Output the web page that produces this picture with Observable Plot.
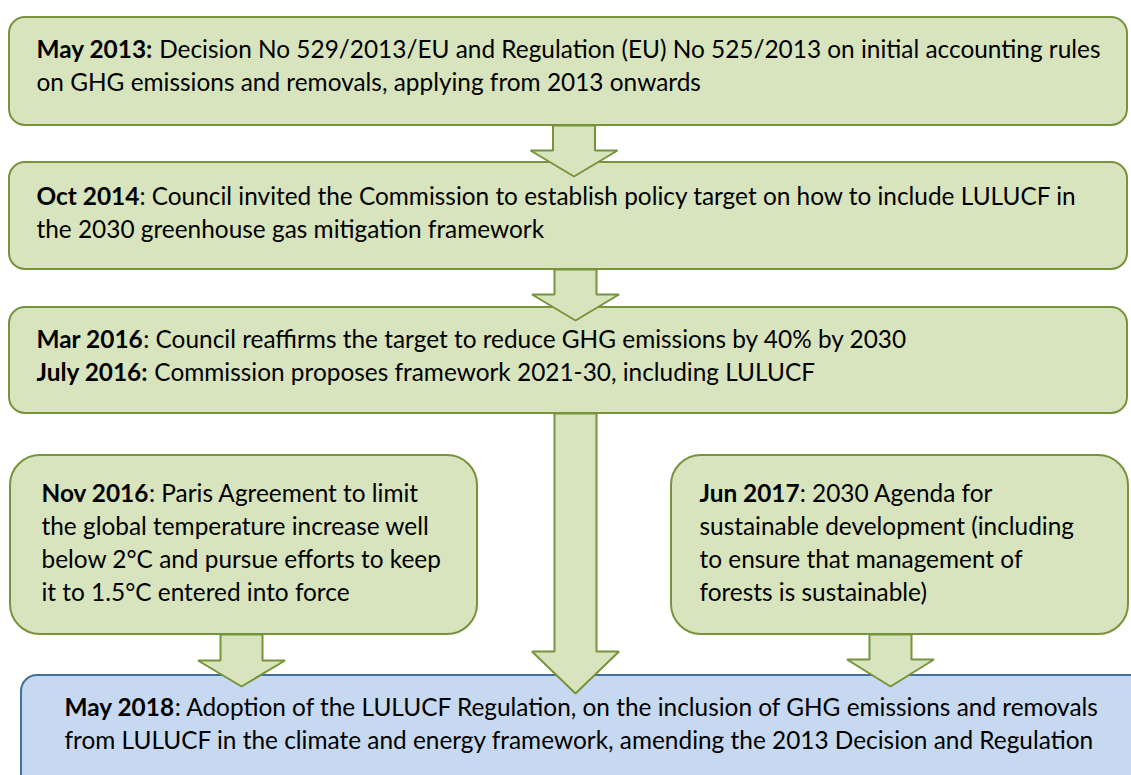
<!DOCTYPE html>
<html>
<head>
<meta charset="utf-8">
<script src="https://cdn.jsdelivr.net/npm/d3@7"></script>
<script src="https://cdn.jsdelivr.net/npm/@observablehq/plot@0.6"></script>
<style>
  html, body { margin: 0; padding: 0; background: #ffffff; }
  #chart svg { display: block; }
</style>
</head>
<body>
<div id="chart"></div>
<script>
// ---- Data: the timeline boxes (diagram units = page pixels) ----
const boxIds   = ["may2013", "oct2014", "mar2016", "nov2016", "jun2017", "may2018"];
const boxLeft  = [9, 9, 9, 10, 671, 21];
const boxRight = [1127, 1127, 1127, 477, 1128, 1145];
const boxTop   = [17, 162, 307, 455, 455, 675];
const boxBottom= [125, 269, 413, 634, 634, 795];
const boxKind  = ["step", "step", "step", "side", "side", "result"];
const textLeft = [36, 36, 36, 41, 699, 64];
const textTop  = [50, 197, 340, 494, 494, 708];

// each line: [box index, bold lead, regular remainder]
const textLines = [
  [0, "May 2013:", " Decision No 529/2013/EU and Regulation (EU) No 525/2013 on initial accounting rules"],
  [0, "", "on GHG emissions and removals, applying from 2013 onwards"],
  [1, "Oct 2014", ": Council invited the Commission to establish policy target on how to include LULUCF in"],
  [1, "", "the 2030 greenhouse gas mitigation framework"],
  [2, "Mar 2016", ": Council reaffirms the target to reduce GHG emissions by 40% by 2030"],
  [2, "July 2016:", " Commission proposes framework 2021-30, including LULUCF"],
  [3, "Nov 2016", ": Paris Agreement to limit"],
  [3, "", "the global temperature increase well"],
  [3, "", "below 2°C and pursue efforts to keep"],
  [3, "", "it to 1.5°C entered into force"],
  [4, "Jun 2017", ": 2030 Agenda for"],
  [4, "", "sustainable development (including"],
  [4, "", "to ensure that management of"],
  [4, "", "forests is sustainable)"],
  [5, "May 2018", ": Adoption of the LULUCF Regulation, on the inclusion of GHG emissions and removals"],
  [5, "", "from LULUCF in the climate and energy framework, amending the 2013 Decision and Regulation"]
];

// ---- Data: block arrows ----
const arrowCenter = [573.5, 575, 575, 241, 890];
const arrowFrom   = [125, 269, 413, 634, 634];
const arrowHead   = [150, 294, 651, 660, 659];
const arrowTip    = [176, 320, 693, 686, 686];

// ---- Styles ----
const W = 1131, H = 775;
const FONT = "Lato, 'Open Sans', sans-serif";
const LINE = 33;
const green = "#d7e4bd", greenStroke = "#77933c";
const blue = "#c6d9f0", blueStroke = "#41719c";
const shaftW = 42, headW = 87;

// build tables
const boxes = boxIds.map((id, i) => ({
  id, x1: boxLeft[i], x2: boxRight[i], y1: boxTop[i], y2: boxBottom[i], kind: boxKind[i]
}));

const ctx = document.createElement("canvas").getContext("2d");
function measure(str, bold, size) {
  ctx.font = `${bold ? "bold " : ""}${size}px ${FONT}`;
  return ctx.measureText(str).width;
}
// calibrate font size so that the first line spans the same width as in the reference
const refWidth = 1102 - 36;
const w20 = measure(textLines[0][1], true, 20) + measure(textLines[0][2], false, 20);
const FS = Math.round(20 * refWidth / w20 * 10) / 10;

const lineCount = {};
const boldSegs = [], regSegs = [];
for (const [b, lead, rest] of textLines) {
  const k = lineCount[b] = (lineCount[b] ?? -1) + 1;
  const y = textTop[b] + k * LINE;
  const x = textLeft[b];
  if (lead) boldSegs.push({x, y, text: lead});
  regSegs.push({x: x + (lead ? measure(lead, true, FS) : 0), y, text: rest});
}

const arrowPts = [];
arrowCenter.forEach((cx, i) => {
  const s = shaftW / 2, h = headW / 2;
  const pts = [
    [cx - s, arrowFrom[i]], [cx + s, arrowFrom[i]], [cx + s, arrowHead[i]],
    [cx + h, arrowHead[i]], [cx, arrowTip[i]], [cx - h, arrowHead[i]],
    [cx - s, arrowHead[i]], [cx - s, arrowFrom[i]]
  ];
  pts.forEach(([x, y]) => arrowPts.push({id: i, x, y}));
});

const plot = Plot.plot({
  width: W,
  height: H,
  margin: 0,
  x: {domain: [0, W], range: [0, W], axis: null},
  y: {domain: [0, H], range: [0, H], axis: null},
  style: {fontFamily: FONT, background: "#ffffff"},
  marks: [
    Plot.rect(boxes.filter(d => d.kind === "step"), {
      x1: "x1", x2: "x2", y1: "y1", y2: "y2", rx: 16,
      fill: green, stroke: greenStroke, strokeWidth: 2
    }),
    Plot.rect(boxes.filter(d => d.kind === "side"), {
      x1: "x1", x2: "x2", y1: "y1", y2: "y2", rx: 30,
      fill: green, stroke: greenStroke, strokeWidth: 2
    }),
    Plot.rect(boxes.filter(d => d.kind === "result"), {
      x1: "x1", x2: "x2", y1: "y1", y2: "y2", rx: 16,
      fill: blue, stroke: blueStroke, strokeWidth: 2
    }),
    Plot.line(arrowPts, {
      x: "x", y: "y", z: "id", curve: "linear",
      fill: green, stroke: greenStroke, strokeWidth: 2, strokeLinejoin: "miter"
    }),
    Plot.text(boldSegs, {
      x: "x", y: "y", text: "text", textAnchor: "start", lineAnchor: "middle",
      fontSize: FS, fontWeight: "bold", fill: "#000000"
    }),
    Plot.text(regSegs, {
      x: "x", y: "y", text: "text", textAnchor: "start", lineAnchor: "middle",
      fontSize: FS, fill: "#000000"
    })
  ]
});
plot.querySelectorAll("text").forEach(t => { t.setAttribute("xml:space", "preserve"); t.style.whiteSpace = "pre"; });
document.getElementById("chart").appendChild(plot);
</script>
</body>
</html>
